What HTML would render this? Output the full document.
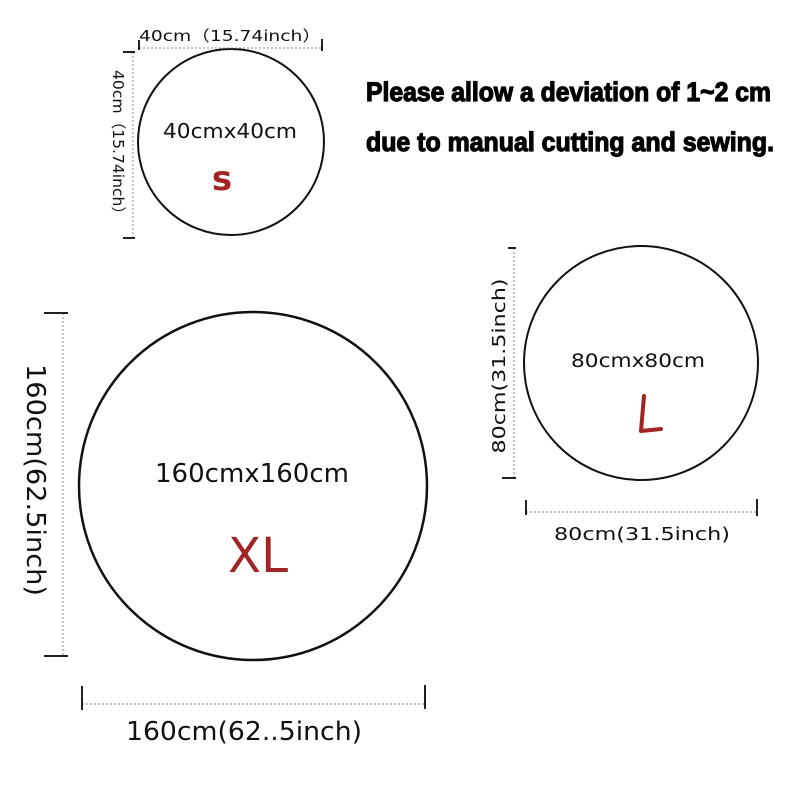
<!DOCTYPE html>
<html><head><meta charset="utf-8"><style>
html,body{margin:0;padding:0;background:#fff;}
svg{display:block;}
text{font-family:"DejaVu Sans","Liberation Sans",sans-serif;fill:#111;}
.b{font-family:"Liberation Sans Narrow","Liberation Sans",sans-serif;font-weight:bold;fill:#000;stroke:#000;stroke-width:1.2;}
.r{fill:#a32424;}
.d{stroke:#888;stroke-width:1;stroke-dasharray:2 2;fill:none;}
.t{stroke:#222;stroke-width:2;}
</style></head><body>
<svg width="800" height="800" viewBox="0 0 800 800" xmlns="http://www.w3.org/2000/svg">
<rect width="800" height="800" fill="#fff"/>
<!-- S -->
<circle cx="231" cy="142" r="93" fill="none" stroke="#111" stroke-width="2"/>
<line class="d" x1="139" y1="48" x2="322" y2="48"/>
<line class="t" x1="139" y1="40" x2="139" y2="50"/>
<line class="t" x1="322" y1="39" x2="322" y2="51"/>
<text x="230" y="41" font-size="15" text-anchor="middle" textLength="182" lengthAdjust="spacingAndGlyphs">40cm（15.74inch）</text>
<line class="d" x1="133" y1="52" x2="133" y2="238"/>
<line class="t" x1="123" y1="52" x2="135" y2="52"/>
<line class="t" x1="123" y1="238" x2="135" y2="238"/>
<text transform="translate(113,146) rotate(90)" font-size="15" text-anchor="middle" textLength="152" lengthAdjust="spacingAndGlyphs">40cm（15.74inch）</text>
<text x="230" y="138" font-size="20" text-anchor="middle" textLength="134" lengthAdjust="spacingAndGlyphs">40cmx40cm</text>
<text x="222" y="190" font-size="34" font-weight="bold" class="r" text-anchor="middle">s</text>
<!-- Notice -->
<text class="b" x="366" y="101" font-size="27" textLength="405" lengthAdjust="spacingAndGlyphs">Please allow a deviation of 1~2 cm</text>
<text class="b" x="366" y="151" font-size="27" textLength="408" lengthAdjust="spacingAndGlyphs">due to manual cutting and sewing.</text>
<!-- L -->
<circle cx="641" cy="363" r="117" fill="none" stroke="#111" stroke-width="2"/>
<line class="d" x1="514" y1="248" x2="514" y2="478"/>
<line class="t" x1="508" y1="248" x2="516" y2="248"/>
<line class="t" x1="502" y1="478" x2="516" y2="478"/>
<text transform="translate(505,366) rotate(-90)" font-size="18" text-anchor="middle" textLength="175" lengthAdjust="spacingAndGlyphs">80cm(31.5inch)</text>
<line class="d" x1="526" y1="512" x2="757" y2="512"/>
<line class="t" x1="526" y1="500" x2="526" y2="515"/>
<line class="t" x1="757" y1="499" x2="757" y2="516"/>
<text x="642" y="540" font-size="18" text-anchor="middle" textLength="176" lengthAdjust="spacingAndGlyphs">80cm(31.5inch)</text>
<text x="638" y="367" font-size="19" text-anchor="middle" textLength="134" lengthAdjust="spacingAndGlyphs">80cmx80cm</text>
<path d="M644 396 L641 431 L661 429" fill="none" stroke="#a32424" stroke-width="4" stroke-linecap="round" stroke-linejoin="round"/>
<!-- XL -->
<circle cx="253" cy="486" r="174" fill="none" stroke="#111" stroke-width="2.5"/>
<line class="d" x1="63" y1="313" x2="63" y2="656"/>
<line class="t" x1="44" y1="313" x2="68" y2="313"/>
<line class="t" x1="44" y1="656" x2="68" y2="656"/>
<text transform="translate(27,480) rotate(90)" font-size="26" text-anchor="middle" textLength="232" lengthAdjust="spacingAndGlyphs">160cm(62.5inch)</text>
<line class="d" x1="82" y1="704" x2="425" y2="704"/>
<line class="t" x1="82" y1="686" x2="82" y2="710"/>
<line class="t" x1="425" y1="685" x2="425" y2="709"/>
<text x="244" y="740" font-size="26" text-anchor="middle" textLength="236" lengthAdjust="spacingAndGlyphs">160cm(62..5inch)</text>
<text x="252" y="482" font-size="26" text-anchor="middle" textLength="194" lengthAdjust="spacingAndGlyphs">160cmx160cm</text>
<text x="258" y="572" font-size="48" class="r" text-anchor="middle" textLength="60" lengthAdjust="spacingAndGlyphs">XL</text>
</svg>
</body></html>
